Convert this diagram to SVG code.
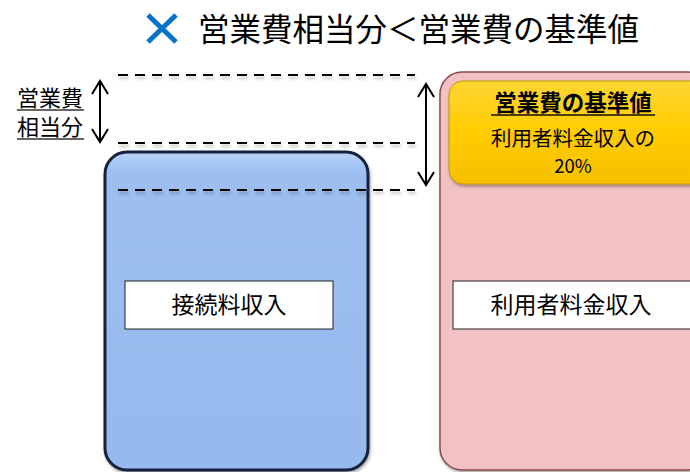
<svg xmlns="http://www.w3.org/2000/svg" width="690" height="472" viewBox="0 0 690 472">
<defs>
<style>
text{font-family:"Noto Sans CJK JP","Noto Sans",sans-serif;fill:#000;}
.dash{stroke:#000;stroke-width:2;stroke-dasharray:10 7;fill:none;}
.arr{stroke:#000;stroke-width:2;fill:none;}
.lbl{fill:#fff;stroke:#222;stroke-width:1;}
</style>
<linearGradient id="blueG" x1="0" y1="0" x2="0" y2="1">
<stop offset="0" stop-color="#B9D3F7"/>
<stop offset="0.06" stop-color="#9DBFF0"/>
<stop offset="1" stop-color="#96B9EE"/>
</linearGradient>
<linearGradient id="yelG" x1="0" y1="0" x2="0" y2="1">
<stop offset="0" stop-color="#FFD633"/>
<stop offset="0.5" stop-color="#FFCC00"/>
<stop offset="1" stop-color="#F5C000"/>
</linearGradient>
<filter id="sh" x="-10%" y="-10%" width="120%" height="120%">
<feDropShadow dx="1" dy="2" stdDeviation="1.5" flood-color="#000" flood-opacity="0.35"/>
</filter>
<filter id="lsh" filterUnits="userSpaceOnUse" x="0" y="0" width="690" height="472">
<feDropShadow dx="1" dy="3" stdDeviation="1.5" flood-color="#000" flood-opacity="0.25"/>
</filter>
</defs>
<rect width="690" height="472" fill="#fff"/>

<g id="title">
<path d="M148 15 L176 42 M176 15 L148 42" stroke="#0A72C8" stroke-width="5" fill="none"/>
<text x="198" y="41" font-size="31.5">営業費相当分＜営業費の基準値</text>
</g>

<g id="blue-box">
<rect x="105" y="152" width="263" height="318" rx="22" fill="url(#blueG)" stroke="#14233D" stroke-width="3" filter="url(#sh)"/>
</g>

<g id="pink-box">
<rect x="440" y="72" width="270" height="398" rx="22" fill="#F2C1C3" stroke="#8A4A4A" stroke-width="1.5" filter="url(#sh)"/>
</g>

<g id="yellow-box">
<rect x="449" y="81" width="260" height="103" rx="14" fill="url(#yelG)" stroke="#C09A00" stroke-width="1" filter="url(#sh)"/>
<text x="573" y="111" font-size="22.5" font-weight="bold" text-anchor="middle" fill="#111">営業費の基準値</text>
<line x1="491" y1="115" x2="655" y2="115" stroke="#111" stroke-width="1.5"/>
<text x="573" y="146" font-size="20.5" text-anchor="middle">利用者料金収入の</text>
<text x="573" y="173" font-size="18.5" text-anchor="middle">20%</text>
</g>

<g id="label-connect">
<rect class="lbl" x="125" y="281" width="208" height="48"/>
<text x="229" y="313" font-size="23" text-anchor="middle">接続料収入</text>
</g>

<g id="label-user">
<rect class="lbl" x="453" y="281" width="240" height="48"/>
<text x="571" y="313" font-size="23" text-anchor="middle">利用者料金収入</text>
</g>

<g id="left-label">
<text x="17" y="106" font-size="22" fill="#222">営業費</text>
<line x1="17" y1="110" x2="84" y2="110" stroke="#333" stroke-width="1.5"/>
<text x="17" y="135" font-size="22" fill="#222">相当分</text>
<line x1="17" y1="139" x2="84" y2="139" stroke="#333" stroke-width="1.5"/>
</g>

<g id="connectors">
<line class="dash" x1="118" y1="75" x2="415" y2="75" filter="url(#lsh)"/>
<line class="dash" x1="118" y1="143" x2="415" y2="143" filter="url(#lsh)"/>
<line class="dash" x1="118" y1="190" x2="415" y2="190" filter="url(#lsh)"/>
<path class="arr" d="M100 81 L100 142 M92 94 L100 81 L108 94 M92 129 L100 142 L108 129"/>
<path class="arr" d="M426 84 L426 185 M418 97 L426 84 L434 97 M418 172 L426 185 L434 172"/>
</g>
</svg>
